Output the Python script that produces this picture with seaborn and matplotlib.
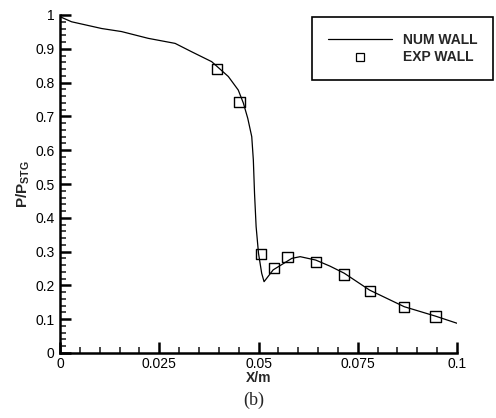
import matplotlib
matplotlib.use("Agg")
import matplotlib.pyplot as plt
import seaborn as sns
import numpy as np
from matplotlib.ticker import MultipleLocator, FixedLocator

# ---- data ----
num_x = [0.0, 0.0029, 0.0105, 0.0155, 0.0222, 0.029, 0.0332, 0.0382, 0.0424,
         0.0449, 0.0462, 0.0473, 0.0483, 0.0487, 0.049, 0.0494, 0.0500, 0.0508, 0.0514,
         0.0537, 0.0584, 0.0605, 0.0644, 0.068, 0.0716, 0.078, 0.0867, 0.0946, 0.1]
num_y = [0.995, 0.980, 0.960, 0.951, 0.931, 0.916, 0.891, 0.862, 0.818,
         0.778, 0.739, 0.694, 0.640, 0.571, 0.472, 0.374, 0.295, 0.236, 0.211,
         0.246, 0.280, 0.285, 0.275, 0.257, 0.236, 0.186, 0.137, 0.109, 0.088]
exp_x = [0.0395, 0.0452, 0.0506, 0.0539, 0.0573, 0.0644, 0.0716, 0.0781, 0.0867, 0.0946]
exp_y = [0.840, 0.743, 0.292, 0.252, 0.285, 0.270, 0.232, 0.184, 0.137, 0.108]
x_ticks = [0, 0.025, 0.05, 0.075, 0.1]
x_tick_labels = ["0", "0.025", "0.05", "0.075", "0.1"]
y_ticks = [0, 0.1, 0.2, 0.3, 0.4, 0.5, 0.6, 0.7, 0.8, 0.9, 1.0]
y_tick_labels = ["0", "0.1", "0.2", "0.3", "0.4", "0.5", "0.6", "0.7", "0.8", "0.9", "1"]

sns.set_style("ticks")
plt.rcParams['font.family'] = ['Liberation Sans', 'DejaVu Sans']
plt.rcParams['mathtext.fontset'] = 'custom'
plt.rcParams['mathtext.rm'] = 'Liberation Sans'
plt.rcParams['mathtext.bf'] = 'Liberation Sans:bold'

fig = plt.figure(figsize=(4.96, 4.18), dpi=100)
ax = fig.add_axes([60/496, 1-353/418, (457-60)/496, (353-15)/418])

sns.lineplot(x=num_x, y=num_y, ax=ax, color='black', lw=0.9, sort=False,
             estimator=None, label='NUM WALL', legend=False)
sns.scatterplot(x=exp_x, y=exp_y, ax=ax, marker='s', s=55, facecolor='none',
                edgecolor='black', linewidth=1.0, label='EXP WALL', legend=False, zorder=3)

ax.set_xlim(0, 0.1)
ax.set_ylim(0, 1)
ax.xaxis.set_major_locator(FixedLocator(x_ticks))
ax.set_xticklabels(x_tick_labels)
ax.yaxis.set_major_locator(FixedLocator(y_ticks))
ax.set_yticklabels(y_tick_labels)
ax.xaxis.set_minor_locator(MultipleLocator(0.005))
ax.yaxis.set_minor_locator(MultipleLocator(0.02))
ax.tick_params(which='major', direction='in', length=8, width=1.8, labelsize=10, pad=4, colors='black')
ax.tick_params(which='minor', direction='in', length=4, width=1.2)
ax.tick_params(axis='x', pad=3)
for s in ['top', 'right']:
    ax.spines[s].set_visible(False)
for s in ['left', 'bottom']:
    ax.spines[s].set_linewidth(1.8)
    ax.spines[s].set_color('black')

ax.set_xlabel("X/m", fontsize=10, fontweight='bold', labelpad=0)
ax.set_ylabel(r"$\mathbf{P/P_{STG}}$", fontsize=11, labelpad=2)

h1, = ax.plot([], [], color='black', lw=0.9)
h2, = ax.plot([], [], ls='none', marker='s', ms=6, mfc='none', mec='black', mew=0.9)
leg = fig.legend([h1, h2], ['NUM WALL', 'EXP WALL'], loc='upper left',
                 bbox_to_anchor=(312/496, 1-17/418), prop={'weight': 'bold', 'size': 10},
                 handlelength=4.6, handletextpad=0.8, borderpad=1.15, labelspacing=0.25,
                 frameon=True, fancybox=False, borderaxespad=0)
leg.get_frame().set_edgecolor('black')
leg.get_frame().set_linewidth(1.2)
leg.get_frame().set_alpha(1)

fig.text(254/496, 1-400/418, "(b)", ha='center', va='center', fontsize=13,
         family=['Liberation Serif'])

fig.savefig("out.png", dpi=100)
